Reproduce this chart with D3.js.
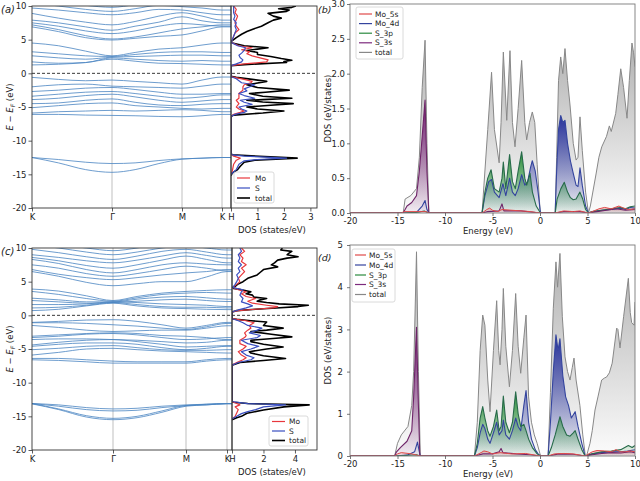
<!DOCTYPE html>
<html><head><meta charset="utf-8">
<script src="https://d3js.org/d3.v7.min.js"></script>
<style>
body{margin:0;background:#fff}
svg{display:block}
text{font-family:"DejaVu Sans",sans-serif}
</style>
</head><body>
<svg id="c" width="640" height="481"></svg>
<script>
// ---------------- DATA ----------------
const kLabels = ["K", "Γ", "M", "K", "H"];
const kSample = [0, 0.33, 0.67, 1, 1.33, 1.67, 2, 2.5, 3, 4];
const bandTicks = [-20, -15, -10, -5, 0, 5, 10];

// panel (a) bands: energy (eV) at kSample
const bandsA_core = [
  [-12.5, -12.8, -13.2, -13.4, -13.3, -12.95, -12.7, -12.6, -12.5, -12.5],
  [-12.5, -13.3, -14.3, -14.7, -14.3, -13.4, -12.75, -12.6, -12.5, -12.5]
];
const bandsA_val = [
  [-0.6, -0.9, -1.1, -1.0, -1.2, -1.4, -1.6, -1.0, -0.55, -0.55],
  [-2.0, -1.7, -1.6, -1.9, -2.0, -2.1, -2.2, -1.9, -1.6, -1.6],
  [-2.7, -2.5, -2.2, -2.1, -2.4, -2.8, -3.1, -3.1, -3.0, -3.0],
  [-3.4, -3.1, -2.8, -2.7, -3.0, -3.4, -3.7, -3.5, -3.2, -3.2],
  [-3.9, -3.7, -3.3, -3.1, -3.5, -4.0, -4.3, -4.1, -3.9, -3.9],
  [-4.5, -4.4, -4.0, -3.8, -4.3, -4.7, -4.8, -4.6, -4.5, -4.5],
  [-5.1, -4.8, -4.5, -4.4, -4.8, -5.0, -5.2, -5.3, -5.2, -5.2],
  [-5.9, -5.7, -5.6, -5.5, -5.6, -5.5, -5.4, -5.5, -5.7, -5.7],
  [-6.1, -6.1, -6.2, -6.25, -6.3, -6.4, -6.45, -6.3, -6.1, -6.1]
];
const bandsA_cond = [
  [1.25, 1.35, 1.6, 2.1, 1.8, 1.5, 1.45, 1.35, 1.25, 1.25],
  [1.7, 1.5, 1.6, 2.3, 2.1, 1.9, 1.8, 1.9, 1.8, 1.8],
  [2.6, 2.3, 2.1, 2.4, 2.5, 2.6, 2.7, 2.7, 2.6, 2.6],
  [3.2, 2.9, 2.6, 2.5, 2.8, 3.1, 3.2, 3.2, 3.1, 3.1],
  [4.5, 4.1, 3.3, 2.6, 3.1, 3.6, 3.8, 4.2, 4.5, 4.5]
];
const bandsA_up = [
  [6.9, 6.2, 5.3, 4.95, 5.2, 5.5, 5.7, 6.3, 6.9, 6.9],
  [7.2, 6.5, 5.6, 5.1, 5.4, 6.0, 6.6, 6.9, 7.2, 7.2],
  [7.5, 7.0, 6.3, 5.9, 6.3, 7.0, 7.4, 7.2, 7.0, 7.0],
  [7.9, 7.5, 6.9, 6.4, 7.0, 7.6, 8.4, 7.8, 7.5, 7.5],
  [8.9, 8.2, 7.6, 7.2, 7.7, 8.5, 9.0, 8.5, 7.9, 7.9],
  [9.7, 9.4, 9.0, 8.7, 9.0, 9.5, 9.4, 9.0, 8.7, 8.7],
  [10.5, 10.0, 9.5, 9.2, 9.6, 10.1, 9.9, 9.7, 9.4, 9.4],
  [11, 10.6, 10.1, 9.8, 10.2, 10.6, 10.5, 10.2, 10.0, 10.0]
];

// panel (c) bands
const bandsC_core = [
  [-13.1, -13.3, -13.7, -13.9, -13.8, -13.5, -13.3, -13.2, -13.1, -13.1],
  [-13.1, -13.5, -14.0, -14.2, -14.1, -13.7, -13.4, -13.2, -13.1, -13.1],
  [-13.1, -13.9, -14.9, -15.3, -15.0, -14.2, -13.4, -13.3, -13.1, -13.1],
  [-13.15, -14.0, -15.1, -15.5, -15.2, -14.4, -13.5, -13.3, -13.15, -13.15]
];
const bandsC_val = [
  [-1.05, -0.9, -0.7, -0.65, -0.9, -1.4, -1.9, -1.5, -1.05, -1.05],
  [-1.1, -1.1, -1.2, -1.4, -1.6, -1.9, -2.1, -1.7, -1.2, -1.2],
  [-1.5, -1.8, -2.2, -2.4, -2.3, -2.2, -2.2, -1.9, -1.55, -1.55],
  [-3.1, -2.9, -2.7, -2.6, -2.7, -3.0, -3.1, -3.3, -3.6, -3.6],
  [-3.3, -3.1, -2.8, -2.7, -2.9, -3.3, -3.6, -3.5, -3.3, -3.3],
  [-3.6, -3.5, -3.5, -3.6, -3.7, -3.9, -4.1, -4.0, -3.7, -3.7],
  [-4.4, -4.0, -3.7, -3.6, -3.9, -4.3, -4.7, -4.6, -4.5, -4.5],
  [-4.6, -4.3, -4.1, -4.1, -4.3, -4.8, -5.1, -4.9, -4.6, -4.6],
  [-5.1, -4.9, -4.6, -4.5, -4.8, -5.1, -5.2, -5.2, -5.1, -5.1],
  [-5.9, -5.5, -5.0, -4.9, -5.1, -5.3, -5.4, -5.5, -5.6, -5.6],
  [-6.4, -6.4, -6.6, -6.8, -6.9, -6.9, -6.9, -6.6, -6.4, -6.4],
  [-6.6, -6.7, -6.9, -7.1, -7.1, -7.1, -7.1, -6.8, -6.6, -6.6]
];
const bandsC_cond = [
  [0.7, 0.9, 1.4, 1.8, 1.4, 1.1, 1.0, 0.9, 0.85, 0.85],
  [1.1, 1.2, 1.5, 1.9, 1.6, 1.3, 1.2, 1.2, 1.1, 1.1],
  [1.6, 1.6, 1.7, 2.0, 1.9, 1.7, 1.6, 1.5, 1.3, 1.3],
  [2.2, 2.0, 1.8, 1.9, 2.1, 2.3, 2.4, 2.2, 2.05, 2.05],
  [2.55, 2.3, 2.0, 2.0, 2.4, 2.7, 2.8, 2.6, 2.4, 2.4],
  [3.55, 3.1, 2.5, 2.1, 2.6, 3.1, 3.3, 3.4, 3.3, 3.3],
  [3.9, 3.6, 2.9, 2.2, 2.8, 3.3, 3.55, 3.7, 3.8, 3.8]
];
const bandsC_up = [
  [6.5, 5.8, 4.9, 4.4, 4.7, 5.0, 5.0, 5.7, 6.5, 6.5],
  [6.8, 6.1, 5.6, 5.3, 5.6, 6.0, 6.3, 6.5, 6.8, 6.8],
  [7.5, 7.0, 6.2, 5.8, 6.2, 6.8, 7.3, 7.0, 6.6, 6.6],
  [8.3, 7.7, 6.8, 6.3, 6.8, 7.5, 7.8, 7.6, 7.5, 7.5],
  [8.6, 8.1, 7.4, 7.0, 7.5, 8.2, 8.8, 8.3, 7.8, 7.8],
  [9.0, 8.6, 8.1, 7.8, 8.2, 8.8, 9.3, 8.9, 8.5, 8.5],
  [9.8, 9.3, 8.7, 8.3, 8.8, 9.5, 9.8, 9.4, 9.0, 9.0],
  [10.5, 10.0, 9.4, 9.0, 9.4, 10.0, 10.3, 10.0, 9.7, 9.7],
  [11, 10.5, 10.0, 9.6, 10.0, 10.6, 10.8, 10.5, 10.2, 10.2]
];

// panel (a) DOS: [energy, states/eV]
const dosA_total = [[-15.2,0],[-14.8,0.05],[-14.3,0.25],[-13.8,0.35],[-13.2,0.5],[-12.9,0.9],[-12.6,2.5],[-12.1,0.05],[-11.9,0],
 [-6.4,0],[-6.2,0.1],[-5.9,1.2],[-5.6,2.0],[-5.3,1.0],[-5.0,0.6],[-4.75,1.5],[-4.5,2.35],[-4.25,1.2],[-4.0,0.6],[-3.9,1.2],[-3.7,2.3],[-3.4,1.2],[-3.0,0.7],[-2.8,1.3],[-2.5,2.2],[-2.1,1.0],[-1.7,0.6],[-1.5,0.9],[-1.2,1.35],[-0.9,0.8],[-0.6,0.2],[-0.45,0],
 [1.15,0],[1.3,0.5],[1.6,2.1],[1.75,2.0],[1.95,2.3],[2.2,1.9],[2.5,1.5],[2.8,1.0],[3.1,1.0],[3.4,0.6],[3.6,1.0],[3.8,1.4],[4.1,0.5],[4.5,0.05],[4.7,0],
 [5.0,0.1],[5.3,0.2],[5.8,0.4],[6.2,0.6],[6.6,0.85],[7.0,1.15],[7.5,1.4],[7.9,1.6],[8.2,1.9],[8.5,1.6],[8.9,1.4],[9.2,2.1],[9.4,2.2],[9.6,1.8],[9.8,2.3],[10.0,2.45]];
const dosA_Mo = [[-15,0],[-14.5,0.05],[-13.5,0.1],[-12.9,0.2],[-12.6,0.35],[-12.3,0.1],[-12,0],
 [-6.4,0],[-6.1,0.1],[-5.8,0.35],[-5.6,0.5],[-5.3,0.3],[-5.0,0.2],[-4.5,0.3],[-4.0,0.2],[-3.7,0.3],[-3.0,0.3],[-2.5,0.45],[-2.0,0.45],[-1.7,0.5],[-1.4,0.75],[-1.2,0.8],[-0.9,0.5],[-0.5,0],
 [1.15,0],[1.4,0.5],[1.7,1.35],[2.0,1.4],[2.3,1.1],[2.6,0.8],[2.9,0.6],[3.2,0.7],[3.5,0.4],[3.8,0.8],[4.1,0.3],[4.6,0],
 [5.0,0.05],[5.5,0.1],[6.0,0.15],[6.5,0.3],[7.0,0.2],[7.5,0.15],[8.0,0.2],[8.5,0.25],[9.0,0.15],[9.5,0.2],[10,0.1]];
const dosA_S = [[-15,0],[-14.8,0.05],[-14.3,0.2],[-13.5,0.3],[-13.0,0.5],[-12.8,1.0],[-12.6,2.1],[-12.3,0.5],[-12.1,0.05],[-11.9,0],
 [-6.4,0],[-6.1,0.15],[-5.8,0.5],[-5.6,0.6],[-5.3,0.4],[-5.0,0.3],[-4.6,0.8],[-4.3,0.5],[-4.0,0.35],[-3.7,0.9],[-3.3,0.5],[-3.0,0.3],[-2.6,0.6],[-2.3,0.5],[-1.7,0.9],[-1.4,0.4],[-1.1,0.3],[-0.8,0.2],[-0.5,0],
 [1.15,0],[1.4,0.2],[1.7,0.4],[2.0,0.45],[2.3,0.35],[2.7,0.3],[3.0,0.4],[3.4,0.5],[3.8,0.55],[4.1,0.25],[4.6,0],
 [5.0,0.05],[5.5,0.1],[6.0,0.15],[6.5,0.2],[7.0,0.15],[7.5,0.2],[8.0,0.1],[8.5,0.15],[9.0,0.1],[9.5,0.1],[10,0.1]];

// panel (c) DOS
const dosC_total = [[-15.5,0],[-15.2,0.3],[-15.0,0.6],[-14.55,0.95],[-14.06,2.0],[-13.6,3.3],[-13.3,4.9],[-13.1,1.0],[-12.9,0.1],[-12.8,0],
 [-7.4,0],[-7.0,0.5],[-6.7,2.0],[-6.4,3.4],[-6.0,2.0],[-5.6,1.2],[-5.4,1.1],[-5.0,2.2],[-4.7,3.25],[-4.3,2.0],[-3.9,1.2],[-3.7,1.2],[-3.4,2.8],[-3.2,3.8],[-2.8,2.5],[-2.4,1.2],[-2.2,2.2],[-1.9,3.25],[-1.5,2.0],[-1.0,2.2],[-0.8,1.2],[-0.6,0.3],[-0.5,0],
 [0.5,0],[0.7,0.3],[0.9,1.5],[1.1,2.8],[1.3,4.2],[1.5,4.85],[1.7,3.0],[1.9,2.2],[2.1,1.6],[2.3,1.8],[2.5,2.2],[2.7,1.4],[3.0,1.3],[3.2,0.9],[3.5,1.2],[3.8,0.6],[4.0,0.1],[4.15,0.05],
 [4.3,0.2],[4.6,0.35],[5.0,0.7],[5.5,1.0],[6.0,1.6],[6.4,1.8],[6.8,2.0],[7.2,2.9],[7.5,2.5],[7.8,2.7],[8.2,2.9],[8.5,3.5],[8.7,4.2],[9.0,3.5],[9.2,3.6],[9.5,3.8],[9.7,3.1],[10,3.2]];
const dosC_Mo = [[-15.4,0],[-15.0,0.2],[-14.5,0.3],[-14.0,0.4],[-13.6,0.2],[-13.3,0.5],[-13.1,0.3],[-12.8,0],
 [-7.4,0],[-7.0,0.3],[-6.6,0.7],[-6.3,0.9],[-5.9,0.6],[-5.4,0.4],[-5.0,0.7],[-4.6,0.9],[-4.2,0.5],[-3.7,0.5],[-3.3,0.8],[-3.0,0.9],[-2.6,0.8],[-2.2,1.0],[-1.9,1.2],[-1.5,1.1],[-1.1,1.4],[-0.8,0.9],[-0.5,0],
 [0.5,0],[0.7,0.4],[0.9,1.5],[1.1,2.6],[1.3,2.9],[1.5,2.2],[1.8,1.3],[2.1,1.0],[2.5,1.5],[2.8,0.9],[3.2,0.6],[3.5,0.9],[3.8,0.4],[4.15,0.05],
 [4.6,0.3],[5.0,0.5],[5.5,0.4],[6.0,0.6],[6.5,0.8],[7.0,0.6],[7.5,0.9],[8.0,0.6],[8.5,0.7],[9.0,0.5],[9.5,0.8],[10,0.6]];
const dosC_S = [[-15.4,0],[-15.0,0.3],[-14.6,0.6],[-14.3,1.0],[-14.0,1.5],[-13.6,2.0],[-13.3,3.4],[-13.1,1.0],[-12.8,0],
 [-7.4,0],[-7.0,0.4],[-6.6,1.2],[-6.3,1.4],[-5.9,0.9],[-5.4,0.6],[-5.0,1.2],[-4.6,1.7],[-4.2,1.0],[-3.7,0.6],[-3.3,1.6],[-3.0,1.8],[-2.6,1.1],[-2.2,1.6],[-1.9,1.9],[-1.5,1.0],[-1.1,0.7],[-0.8,0.4],[-0.5,0],
 [0.5,0],[0.8,0.4],[1.1,0.9],[1.4,1.3],[1.7,1.0],[2.0,0.6],[2.5,0.7],[3.0,0.5],[3.5,0.6],[3.8,0.7],[4.0,0.3],[4.15,0.05],
 [4.6,0.2],[5.0,0.3],[5.5,0.4],[6.0,0.3],[6.5,0.5],[7.0,0.4],[7.5,0.6],[8.0,0.4],[8.5,0.5],[9.0,0.4],[9.5,0.6],[10,0.5]];

// panel (b) projected DOS: [energy, DOS]
const pdosB_total = [[-20,0],[-14.4,0],[-14.2,0.2],[-13.6,0.25],[-13.0,0.35],[-12.7,0.8],[-12.4,1.8],[-12.1,2.48],[-11.9,1.0],[-11.7,0],
 [-6.1,0],[-5.9,0.4],[-5.5,1.2],[-5.1,2.02],[-4.8,1.2],[-4.3,0.72],[-4.1,1.3],[-3.86,2.31],[-3.5,1.33],[-3.16,2.33],[-2.9,1.3],[-2.63,0.95],[-2.3,1.5],[-1.93,2.19],[-1.6,1.3],[-1.4,1.05],[-1.1,1.3],[-0.81,1.45],[-0.55,1.3],[-0.3,0.7],[0,0.05],[0.1,0],
 [1.6,0],[1.75,0.8],[1.95,1.9],[2.18,2.24],[2.4,2.0],[2.63,2.36],[2.9,1.9],[3.16,1.55],[3.5,1.0],[3.8,0.76],[4.0,0.8],[4.21,1.38],[4.45,0.9],[4.8,0.3],[5.1,0],
 [5.3,0.1],[5.6,0.33],[5.9,0.56],[6.2,0.8],[6.5,0.95],[7.0,1.1],[7.3,1.25],[7.5,1.17],[7.97,1.43],[8.2,1.7],[8.5,2.07],[8.8,1.8],[9.16,1.36],[9.4,1.9],[9.68,2.44],[9.85,2.3],[10,2.1]];
const pdosB_Mo4d = [[-20,0],[-14.4,0],[-13.0,0.01],[-12.4,0.1],[-12.1,0.18],[-11.9,0.05],[-11.7,0],
 [-6.1,0],[-5.8,0.25],[-5.4,0.45],[-5.1,0.48],[-4.8,0.3],[-4.3,0.22],[-3.9,0.42],[-3.6,0.25],[-3.2,0.5],[-2.9,0.3],[-2.6,0.25],[-2.3,0.35],[-1.93,0.55],[-1.6,0.4],[-1.3,0.45],[-1.0,0.65],[-0.81,0.75],[-0.5,0.6],[-0.2,0.3],[0.05,0],
 [1.6,0],[1.75,0.6],[1.95,1.2],[2.18,1.4],[2.4,1.3],[2.63,1.33],[2.9,1.0],[3.2,0.75],[3.5,0.57],[3.8,0.4],[4.0,0.38],[4.21,0.65],[4.45,0.4],[4.8,0.1],[5.1,0],
 [5.5,0.02],[6.5,0.04],[7.5,0.05],[8.5,0.07],[9.0,0.05],[9.5,0.08],[10,0.07]];
const pdosB_S3p = [[-20,0],[-14.4,0],[-12.8,0.01],[-12.2,0.03],[-11.7,0],
 [-6.1,0],[-5.8,0.3],[-5.5,0.5],[-5.15,0.62],[-4.8,0.35],[-4.3,0.3],[-4.0,0.5],[-3.86,0.73],[-3.6,0.35],[-3.2,0.84],[-2.9,0.45],[-2.6,0.35],[-2.3,0.6],[-1.93,0.88],[-1.6,0.5],[-1.4,0.4],[-1.05,0.57],[-0.8,0.3],[-0.4,0.1],[0.05,0],
 [1.6,0],[1.8,0.2],[2.2,0.35],[2.56,0.44],[2.9,0.3],[3.2,0.22],[3.5,0.19],[3.8,0.2],[4.2,0.3],[4.5,0.2],[4.8,0.05],[5.1,0],
 [5.5,0.02],[6.5,0.04],[7.5,0.06],[8.5,0.08],[9.0,0.06],[9.5,0.09],[10,0.1]];
const pdosB_S3s = [[-20,0],[-14.4,0],[-14.0,0.1],[-13.5,0.15],[-13.0,0.25],[-12.7,0.6],[-12.4,1.1],[-12.1,1.62],[-11.9,0.6],[-11.7,0],
 [-6.1,0],[-5.5,0.02],[-4.3,0.03],[-4.0,0.13],[-3.8,0.03],[-2,0.03],[0,0],
 [1.6,0],[2.5,0.02],[4.2,0.02],[5.1,0],[6.0,0.02],[7.0,0.04],[8.0,0.06],[9.0,0.04],[10,0.05]];
const pdosB_Mo5s = [[-20,0],[-14.6,0],[-14.3,0.02],[-12,0.02],[-11.7,0],[-6.1,0],[-5.6,0.05],[-5.3,0.07],[-5.0,0.04],[-4.5,0.02],[-4.0,0.05],[-2,0.03],[-1.0,0.02],[0,0],
 [1.6,0],[2.5,0.03],[3.5,0.02],[4.2,0.03],[5.1,0],[5.5,0.02],[6.2,0.06],[6.8,0.08],[7.5,0.06],[8.3,0.1],[8.8,0.07],[9.3,0.05],[10,0.06]];

// panel (d) projected DOS
const pdosD_total = [[-20,0],[-15.3,0],[-15.0,0.3],[-14.6,0.5],[-13.9,0.7],[-13.5,1.2],[-13.3,2.0],[-13.0,4.84],[-12.8,2.0],[-12.6,0],
 [-6.9,0],[-6.6,0.8],[-6.3,2.5],[-6.03,3.34],[-5.8,3.1],[-5.5,1.8],[-5.26,1.05],[-4.9,2.5],[-4.56,3.68],[-4.35,2.5],[-4.2,2.16],[-4.0,3.0],[-3.86,3.97],[-3.6,2.6],[-3.22,1.64],[-2.9,2.5],[-2.56,3.85],[-2.3,2.6],[-2.03,1.96],[-1.7,2.8],[-1.47,3.34],[-1.2,1.4],[-0.9,0.8],[-0.6,0.5],[-0.3,0.3],[0,0.05],[0.1,0],
 [0.85,0],[1.1,1.5],[1.4,3.5],[1.68,4.6],[1.85,4.0],[2.1,4.8],[2.35,3.3],[2.63,2.35],[2.9,2.0],[3.16,1.8],[3.4,2.1],[3.58,2.32],[3.8,1.8],[4.2,1.2],[4.5,0.5],[4.75,0.04],[4.9,0],
 [5.26,0.3],[5.5,0.6],[5.79,1.09],[6.1,1.4],[6.49,1.8],[6.8,1.85],[7.0,1.87],[7.3,1.97],[7.6,2.2],[8.07,3.03],[8.2,3.0],[8.42,2.56],[8.8,3.3],[9.3,4.21],[9.5,3.4],[9.65,3.16],[9.9,3.1],[10,3.65]];
const pdosD_Mo4d = [[-20,0],[-15.3,0],[-14.0,0.02],[-13.2,0.1],[-12.9,0.33],[-12.7,0.1],[-12.6,0],
 [-6.9,0],[-6.6,0.2],[-6.3,0.55],[-6.03,0.75],[-5.8,0.65],[-5.5,0.4],[-5.26,0.3],[-4.9,0.55],[-4.56,0.8],[-4.3,0.5],[-4.0,0.6],[-3.86,0.85],[-3.6,0.5],[-3.22,0.4],[-2.9,0.6],[-2.56,0.9],[-2.3,0.7],[-2.03,0.6],[-1.7,1.2],[-1.47,1.55],[-1.2,0.8],[-0.9,0.4],[-0.5,0.15],[-0.2,0.05],[0.05,0],
 [0.85,0],[1.1,0.8],[1.4,2.0],[1.68,2.87],[1.9,2.5],[2.1,2.78],[2.4,1.9],[2.7,1.4],[3.0,1.2],[3.3,0.9],[3.7,1.05],[4.0,0.7],[4.4,0.3],[4.75,0],
 [5.5,0.05],[6.5,0.08],[7.5,0.1],[8.5,0.1],[9.2,0.12],[10,0.15]];
const pdosD_S3p = [[-20,0],[-15.3,0],[-13.0,0.03],[-12.6,0],
 [-6.9,0],[-6.6,0.3],[-6.3,0.9],[-6.03,1.17],[-5.8,0.9],[-5.5,0.6],[-5.26,0.47],[-4.9,0.7],[-4.56,1.09],[-4.3,0.6],[-4.1,0.7],[-3.86,1.42],[-3.6,0.8],[-3.22,0.55],[-2.9,0.8],[-2.56,1.52],[-2.3,1.0],[-2.03,0.7],[-1.7,0.75],[-1.47,0.6],[-1.2,0.4],[-0.8,0.2],[-0.3,0.05],[0.05,0],
 [0.85,0],[1.2,0.2],[1.6,0.5],[2.1,0.93],[2.4,0.7],[2.8,0.5],[3.16,0.47],[3.5,0.55],[3.7,0.6],[4.0,0.4],[4.4,0.15],[4.75,0],
 [5.5,0.05],[6.5,0.1],[7.5,0.12],[8.5,0.15],[9.3,0.25],[9.7,0.2],[10,0.25]];
const pdosD_S3s = [[-20,0],[-15.3,0],[-15.1,0.1],[-14.7,0.2],[-14.0,0.35],[-13.5,0.6],[-13.3,1.4],[-13.0,3.05],[-12.8,1.2],[-12.65,0],
 [-6.9,0],[-6.0,0.05],[-5.0,0.05],[-4.3,0.1],[-4.1,0.18],[-3.9,0.08],[-2.5,0.05],[-1,0.03],[0,0],
 [0.85,0],[2.0,0.05],[3.5,0.04],[4.75,0],[5.5,0.03],[6.5,0.06],[7.5,0.08],[8.5,0.07],[9.5,0.1],[10,0.08]];
const pdosD_Mo5s = [[-20,0],[-15.3,0],[-15.0,0.05],[-14.6,0.08],[-13.5,0.05],[-12.6,0],
 [-6.9,0],[-6.2,0.08],[-5.9,0.12],[-5.5,0.1],[-5.0,0.05],[-4.2,0.08],[-3.0,0.05],[-1.5,0.06],[0,0],
 [0.85,0],[1.5,0.05],[2.5,0.06],[3.5,0.05],[4.75,0],
 [5.5,0.1],[6.0,0.13],[6.8,0.12],[7.5,0.1],[8.0,0.15],[8.5,0.1],[9.0,0.1],[9.5,0.12],[10,0.1]];

const pdosNames = ["Mo_5s", "Mo_4d", "S_3p", "S_3s", "total"];
const dosNames = ["Mo", "S", "total"];

// ---------------- DRAWING ----------------
const svg = d3.select("#c");
const defs = svg.append("defs");
const FS = 8.5;
const intFmt = d => d3.format("d")(d).replace("−", "-");

function styleAxis(g, color) {
  g.select(".domain").remove();
  g.selectAll(".tick line").attr("stroke", color).attr("stroke-width", 0.8);
  g.selectAll(".tick text").attr("font-size", FS).attr("fill", "#222")
    .attr("font-family", "DejaVu Sans, sans-serif");
}

function legend(x, y, w, h, items, rowY, lineX0, lineX1, textX) {
  const g = svg.append("g");
  g.append("rect").attr("x", x).attr("y", y).attr("width", w).attr("height", h)
    .attr("rx", 2).attr("fill", "#fff").attr("fill-opacity", 0.85)
    .attr("stroke", "#d0d0d0").attr("stroke-width", 0.8);
  items.forEach((it, i) => {
    g.append("line").attr("x1", lineX0).attr("x2", lineX1)
      .attr("y1", rowY[i]).attr("y2", rowY[i])
      .attr("stroke", it.color).attr("stroke-width", it.w);
    g.append("text").attr("x", textX).attr("y", rowY[i]).attr("dy", "0.35em")
      .attr("font-size", 7.5).attr("fill", "#222").text(it.name);
  });
}

function bandPanel(cfg) {
  const x = d3.scaleLinear().domain([0, 1, 2, 3, 4]).range(cfg.kx);
  const y = d3.scaleLinear().domain([-20, 10]).range([cfg.y1, cfg.y0]);
  const xH = cfg.kx[4];
  const xd = d3.scaleLinear().domain([0, cfg.dosMax]).range([xH, cfg.dosRight]);
  const id = cfg.id;
  defs.append("clipPath").attr("id", "cb" + id).append("rect")
    .attr("x", cfg.kx[0]).attr("y", cfg.y0).attr("width", xH - cfg.kx[0]).attr("height", cfg.y1 - cfg.y0);
  defs.append("clipPath").attr("id", "cd" + id).append("rect")
    .attr("x", xH).attr("y", cfg.y0).attr("width", cfg.dosRight - xH).attr("height", cfg.y1 - cfg.y0);

  svg.append("g").selectAll("line").data([1, 2, 3]).join("line")
    .attr("x1", d => x(d)).attr("x2", d => x(d)).attr("y1", cfg.y0).attr("y2", cfg.y1)
    .attr("stroke", "#b8b8b8").attr("stroke-width", 0.9);

  const line = d3.line().x((d, i) => x(kSample[i])).y(d => y(d)).curve(d3.curveMonotoneX);
  const gb = svg.append("g").attr("clip-path", `url(#cb${id})`);
  gb.selectAll("path").data(cfg.bands).join("path")
    .attr("d", line).attr("fill", "none")
    .attr("stroke", "#4a85c2").attr("stroke-opacity", 0.8).attr("stroke-width", 1);

  const dline = d3.line().x(d => xd(d[1])).y(d => y(d[0]));
  const gd = svg.append("g").attr("clip-path", `url(#cd${id})`);
  const dos = [
    { d: cfg.dos[2], c: "#000", w: 1.6 },
    { d: cfg.dos[0], c: "#e8373c", w: 1.2 },
    { d: cfg.dos[1], c: "#3a4fc0", w: 1.2 }
  ];
  dos.forEach(s => gd.append("path").attr("d", dline(s.d)).attr("fill", "none")
    .attr("stroke", s.c).attr("stroke-width", s.w).attr("stroke-linejoin", "round"));

  svg.append("line").attr("x1", cfg.kx[0]).attr("x2", cfg.dosRight)
    .attr("y1", y(0)).attr("y2", y(0))
    .attr("stroke", "#222").attr("stroke-width", 0.9).attr("stroke-dasharray", "3,2");

  svg.append("rect").attr("x", cfg.kx[0]).attr("y", cfg.y0).attr("width", xH - cfg.kx[0])
    .attr("height", cfg.y1 - cfg.y0).attr("fill", "none").attr("stroke", "#333").attr("stroke-width", 0.9);
  svg.append("rect").attr("x", xH).attr("y", cfg.y0).attr("width", cfg.dosRight - xH)
    .attr("height", cfg.y1 - cfg.y0).attr("fill", "none").attr("stroke", "#333").attr("stroke-width", 0.9);

  const ay = svg.append("g").attr("transform", `translate(${cfg.kx[0]},0)`)
    .call(d3.axisLeft(y).tickValues(bandTicks).tickSize(3.5).tickPadding(2).tickFormat(intFmt));
  styleAxis(ay, "#333");
  const ax = svg.append("g").attr("transform", `translate(0,${cfg.y1})`)
    .call(d3.axisBottom(x).tickValues([0, 1, 2, 3, 4]).tickSize(3.5).tickPadding(2).tickFormat(i => kLabels[i]));
  styleAxis(ax, "#333");
  const axd = svg.append("g").attr("transform", `translate(0,${cfg.y1})`)
    .call(d3.axisBottom(xd).tickValues(cfg.dosTicks).tickSize(3.5).tickPadding(2).tickFormat(intFmt));
  styleAxis(axd, "#333");

  const yl = svg.append("text").attr("transform", `translate(13,${(cfg.y0 + cfg.y1) / 2}) rotate(-90)`)
    .attr("text-anchor", "middle").attr("font-size", FS).attr("fill", "#222");
  yl.append("tspan").attr("font-style", "italic").text("E");
  yl.append("tspan").text(" − ");
  yl.append("tspan").attr("font-style", "italic").text("E");
  yl.append("tspan").attr("font-style", "italic").attr("font-size", 6).attr("dy", 2).text("F");
  yl.append("tspan").attr("dy", -2).text(" (eV)");
  svg.append("text").attr("x", 272).attr("y", cfg.y1 + 25).attr("text-anchor", "middle")
    .attr("font-size", FS).attr("fill", "#222").text("DOS (states/eV)");
  svg.append("text").attr("x", 1).attr("y", cfg.y0 + 7).attr("font-family", "Liberation Serif, serif")
    .attr("font-style", "italic").attr("font-size", 10).attr("fill", "#222").text(cfg.letter);

  legend(cfg.leg.x, cfg.leg.y, cfg.leg.w, cfg.leg.h,
    [{ name: dosNames[0], color: "#e8373c", w: 1.2 }, { name: dosNames[1], color: "#3a4fc0", w: 1.2 }, { name: dosNames[2], color: "#000", w: 1.6 }],
    cfg.leg.rows, cfg.leg.l0, cfg.leg.l1, cfg.leg.tx);
}

function pdosPanel(cfg) {
  const x = d3.scaleLinear().domain([-20, 10]).range([350, 635]);
  const y = d3.scaleLinear().domain([0, cfg.ymax]).range([cfg.y1, cfg.y0]);
  const id = cfg.id;
  defs.append("clipPath").attr("id", "cp" + id).append("rect")
    .attr("x", 350).attr("y", cfg.y0).attr("width", 285).attr("height", cfg.y1 - cfg.y0);
  const series = [
    { d: cfg.total, line: "#888888", fill: "#8a8a8a", top: 0.68, bot: 0.03, w: 1 },
    { d: cfg.mo4d, line: "#34449e", fill: "#1f2a9a", top: 0.95, bot: 0.02, w: 1.1 },
    { d: cfg.s3p, line: "#276b4a", fill: "#1c8a2c", top: 0.92, bot: 0.05, w: 1.1 },
    { d: cfg.s3s, line: "#6e2468", fill: "#6c136c", top: 0.95, bot: 0.06, w: 1.1 },
    { d: cfg.mo5s, line: "#e04a4a", fill: "#e04a4a", top: 0.5, bot: 0.0, w: 1 }
  ];
  const area = d3.area().x(d => x(d[0])).y0(y(0)).y1(d => y(d[1]));
  const line = d3.line().x(d => x(d[0])).y(d => y(d[1]));
  const g = svg.append("g").attr("clip-path", `url(#cp${id})`);
  series.forEach((s, i) => {
    const gid = `g${id}${i}`;
    const lg = defs.append("linearGradient").attr("id", gid)
      .attr("x1", 0).attr("y1", 0).attr("x2", 0).attr("y2", 1);
    lg.append("stop").attr("offset", "0%").attr("stop-color", s.fill).attr("stop-opacity", s.top);
    lg.append("stop").attr("offset", "100%").attr("stop-color", s.fill).attr("stop-opacity", s.bot);
    g.append("path").attr("d", area(s.d)).attr("fill", `url(#${gid})`);
  });
  series.forEach(s => g.append("path").attr("d", line(s.d)).attr("fill", "none")
    .attr("stroke", s.line).attr("stroke-width", s.w).attr("stroke-linejoin", "round"));

  svg.append("rect").attr("x", 350).attr("y", cfg.y0).attr("width", 285).attr("height", cfg.y1 - cfg.y0)
    .attr("fill", "none").attr("stroke", "#7a7a7a").attr("stroke-width", 0.9);
  const ax = svg.append("g").attr("transform", `translate(0,${cfg.y1})`)
    .call(d3.axisBottom(x).tickValues([-20, -15, -10, -5, 0, 5, 10]).tickSize(3).tickPadding(2).tickFormat(intFmt));
  styleAxis(ax, "#555");
  const ay = svg.append("g").attr("transform", "translate(350,0)")
    .call(d3.axisLeft(y).tickValues(cfg.yticks).tickSize(3).tickPadding(cfg.ypad).tickFormat(d3.format(cfg.yfmt)));
  styleAxis(ay, "#555");

  svg.append("text").attr("x", 488).attr("y", cfg.y1 + 21).attr("text-anchor", "middle")
    .attr("font-size", FS).attr("fill", "#222").text("Energy (eV)");
  svg.append("text").attr("transform", `translate(331,${(cfg.y0 + cfg.y1) / 2}) rotate(-90)`)
    .attr("text-anchor", "middle").attr("font-size", FS).attr("fill", "#222").text("DOS (eV/states)");
  svg.append("text").attr("x", 318).attr("y", cfg.letterY).attr("font-family", "Liberation Serif, serif")
    .attr("font-style", "italic").attr("font-size", 9.5).attr("fill", "#222").text(cfg.letter);

  const cols = ["#e04a4a", "#34449e", "#2a8a3e", "#7d2a7d", "#888888"];
  legend(cfg.leg.x, cfg.leg.y, cfg.leg.w, cfg.leg.h,
    pdosNames.map((n, i) => ({ name: n, color: cols[i], w: 1.2 })),
    cfg.leg.rows, cfg.leg.l0, cfg.leg.l1, cfg.leg.tx);
}

bandPanel({
  id: "a", letter: "(a)", kx: [32, 112, 182, 222, 231], y0: 6, y1: 208,
  bands: [...bandsA_core, ...bandsA_val, ...bandsA_cond, ...bandsA_up],
  dos: [dosA_Mo, dosA_S, dosA_total], dosMax: 3.25, dosRight: 317, dosTicks: [1, 2, 3],
  leg: { x: 234, y: 172, w: 40, h: 31, rows: [178, 188, 198], l0: 237, l1: 250, tx: 255 }
});
bandPanel({
  id: "c", letter: "(c)", kx: [32, 113, 186, 227, 232], y0: 248, y1: 450,
  bands: [...bandsC_core, ...bandsC_val, ...bandsC_cond, ...bandsC_up],
  dos: [dosC_Mo, dosC_S, dosC_total], dosMax: 5.4, dosRight: 317, dosTicks: [2, 4],
  leg: { x: 269, y: 416, w: 39, h: 30, rows: [421.5, 431, 440.5], l0: 272, l1: 285, tx: 289 }
});
pdosPanel({
  id: "b", letter: "(b)", letterY: 13, y0: 4, y1: 213, ymax: 3, ypad: 2,
  yticks: [0, 0.5, 1, 1.5, 2, 2.5, 3], yfmt: ".1f",
  total: pdosB_total, mo4d: pdosB_Mo4d, s3p: pdosB_S3p, s3s: pdosB_S3s, mo5s: pdosB_Mo5s,
  leg: { x: 356, y: 7, w: 47, h: 52, rows: [14, 23.6, 33.2, 42.8, 52.4], l0: 359, l1: 372, tx: 375 }
});
pdosPanel({
  id: "d", letter: "(d)", letterY: 261, y0: 245, y1: 456, ymax: 5, ypad: 4,
  yticks: [0, 1, 2, 3, 4, 5], yfmt: "d",
  total: pdosD_total, mo4d: pdosD_Mo4d, s3p: pdosD_S3p, s3s: pdosD_S3s, mo5s: pdosD_Mo5s,
  leg: { x: 352, y: 249, w: 43, h: 53, rows: [255, 265, 275, 284.5, 294.5], l0: 355, l1: 366, tx: 369 }
});
</script>
</body></html>
